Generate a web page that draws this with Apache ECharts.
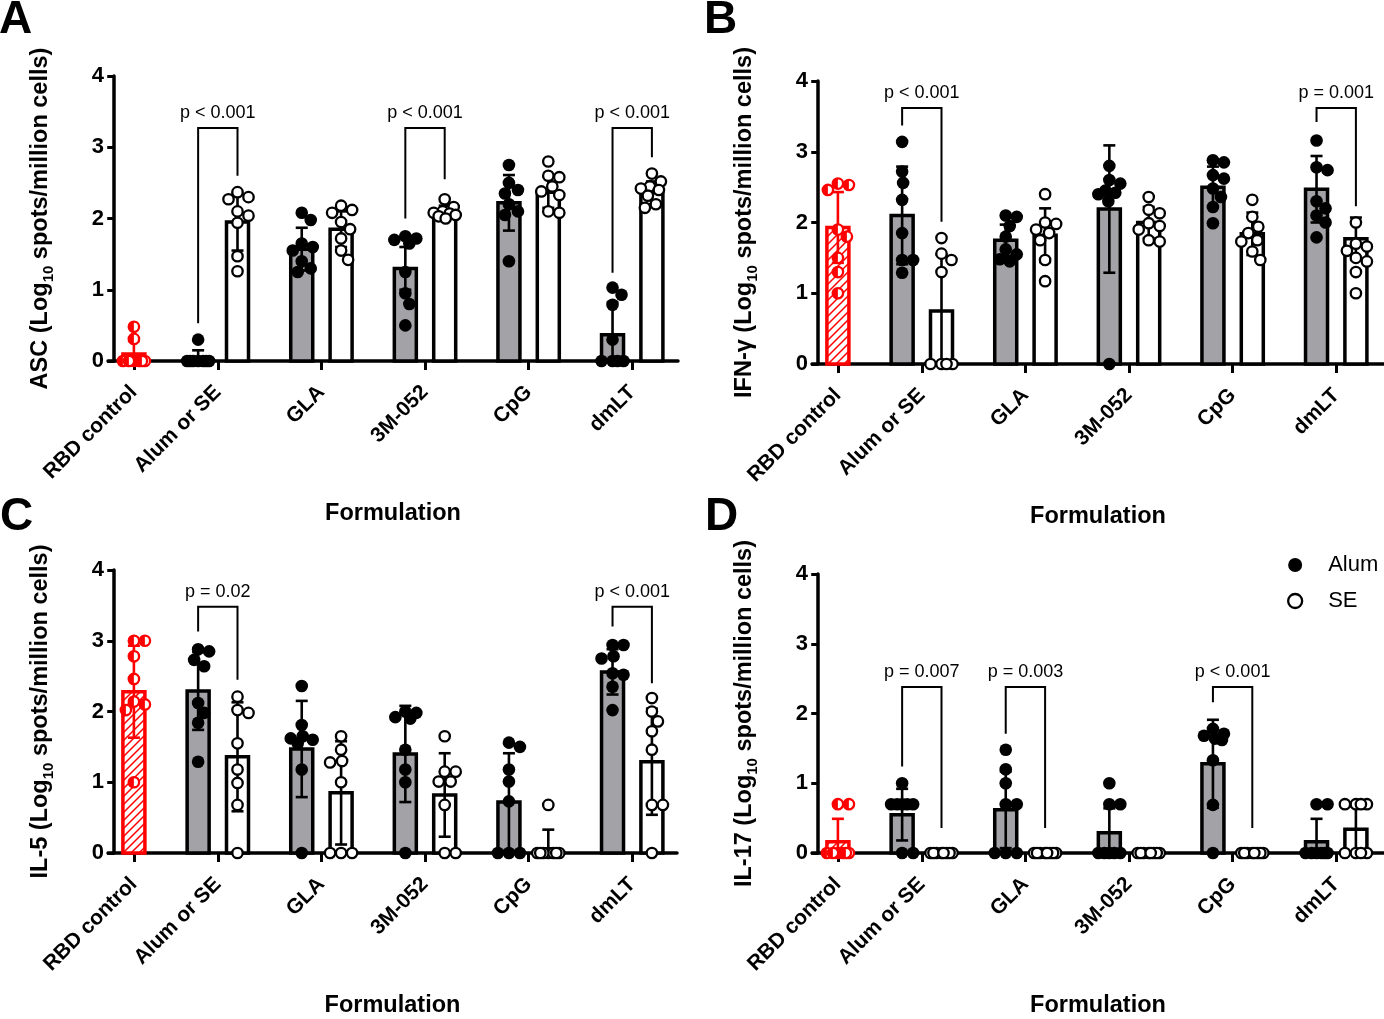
<!DOCTYPE html>
<html>
<head>
<meta charset="utf-8">
<script src="https://cdn.jsdelivr.net/npm/echarts@6/dist/echarts.min.js"></script>
<style>
html, body { margin: 0; padding: 0; background: #fff; }
#main { width: 1384px; height: 1019px; }
</style>
</head>
<body>
<div id="main"></div>
<script>
// categories / ticks
var formulations = ['RBD control', 'Alum or SE', 'GLA', '3M-052', 'CpG', 'dmLT'];
var yTicks = [0, 1, 2, 3, 4];
var panelLetters = ['A', 'B', 'C', 'D'];
var cytokines = ['ASC', 'IFN-γ', 'IL-5', 'IL-17'];
var legendNames = ['Alum', 'SE'];

// A - ASC
var ascCtrl = [0.48, 0.31, 0, 0, 0, 0, 0, 0];
var ascCtrlBar = [0.10, 0.18];
var ascAlum = [
  [0.3, 0, 0, 0, 0, 0, 0, 0],
  [2.08, 1.98, 1.65, 1.6, 1.55, 1.4, 1.3, 1.25],
  [1.75, 1.72, 1.7, 1.65, 1.25, 0.95, 0.8, 0.5],
  [2.75, 2.5, 2.4, 2.35, 2.2, 2.1, 2.05, 1.4],
  [1.03, 0.93, 0.79, 0.3, 0, 0, 0, 0]
];
var ascAlumMean = [0.04, 1.57, 1.30, 2.22, 0.37];
var ascAlumSd = [0.11, 0.30, 0.30, 0.39, 0.45];
var ascSE = [
  [2.37, 2.3, 2.27, 2.1, 2.04, 1.94, 1.47, 1.26],
  [2.18, 2.12, 2.08, 1.95, 1.85, 1.72, 1.55, 1.42],
  [2.27, 2.16, 2.1, 2.08, 2.07, 2.05, 2.03, 2.0],
  [2.8, 2.6, 2.58, 2.45, 2.38, 2.33, 2.1, 2.08],
  [2.63, 2.52, 2.45, 2.42, 2.4, 2.32, 2.2, 2.15]
];
var ascSEMean = [1.95, 1.85, 2.08, 2.37, 2.36];
var ascSESd = [0.40, 0.25, 0.10, 0.22, 0.16];
var ascP = ['p < 0.001', null, 'p < 0.001', null, 'p < 0.001'];
var ascBracket = [[3.27, 0.53, 2.6], null, [3.27, 2.0, 2.55], null, [3.27, 1.24, 2.86]];

// B - IFN-γ
var ifnCtrl = [2.55, 2.53, 2.46, 1.9, 1.8, 1.5, 1.3, 1.0];
var ifnCtrlBar = [1.93, 0.5];
var ifnAlum = [
  [3.14, 2.72, 2.56, 2.32, 1.85, 1.47, 1.47, 1.29],
  [2.1, 2.08, 1.95, 1.8, 1.62, 1.55, 1.48, 1.45],
  [2.8, 2.6, 2.55, 2.45, 2.42, 2.4, 2.3, 0],
  [2.88, 2.85, 2.67, 2.62, 2.48, 2.36, 2.22, 1.99],
  [3.16, 2.78, 2.74, 2.3, 2.2, 2.1, 2.0, 1.79]
];
var ifnAlumMean = [2.10, 1.75, 2.19, 2.50, 2.47];
var ifnAlumSd = [0.69, 0.22, 0.90, 0.29, 0.47];
var ifnSE = [
  [1.78, 1.56, 1.47, 1.3, 0, 0, 0, 0],
  [2.4, 2.0, 1.98, 1.9, 1.85, 1.75, 1.47, 1.17],
  [2.36, 2.18, 2.13, 1.99, 1.95, 1.9, 1.75, 1.73],
  [2.32, 2.08, 1.94, 1.85, 1.75, 1.73, 1.59, 1.47],
  [2.0, 1.7, 1.66, 1.6, 1.5, 1.45, 1.3, 1.0]
];
var ifnSEMean = [0.75, 1.82, 2.00, 1.84, 1.77];
var ifnSESd = [0.80, 0.38, 0.22, 0.30, 0.30];
var ifnP = ['p < 0.001', null, null, null, 'p = 0.001'];
var ifnBracket = [[3.62, 3.37, 2.01], null, null, null, [3.62, 3.42, 2.23]];

// C - IL-5
var il5Ctrl = [3.0, 3.0, 2.78, 2.46, 2.14, 2.1, 2.02, 1.0];
var il5CtrlBar = [2.28, 0.65];
var il5Alum = [
  [2.88, 2.85, 2.73, 2.64, 2.12, 1.98, 1.84, 1.29],
  [2.36, 1.81, 1.65, 1.62, 1.6, 1.55, 1.18, 0],
  [2.0, 1.98, 1.92, 1.9, 1.46, 1.18, 1.0, 0],
  [1.56, 1.5, 1.18, 1.01, 0.73, 0, 0, 0],
  [2.94, 2.94, 2.78, 2.75, 2.54, 2.52, 2.35, 2.02]
];
var il5AlumMean = [2.29, 1.47, 1.40, 0.72, 2.56];
var il5AlumSd = [0.55, 0.68, 0.68, 0.69, 0.32];
var il5SE = [
  [2.21, 2.02, 1.98, 1.55, 1.18, 0.99, 0.68, 0],
  [1.65, 1.46, 1.3, 1.28, 1.0, 0, 0, 0],
  [1.65, 1.15, 1.15, 1.01, 1.01, 0.68, 0, 0],
  [0.68, 0, 0, 0, 0, 0, 0, 0],
  [2.19, 2.0, 1.86, 1.72, 1.46, 0.68, 0.68, 0]
];
var il5SEMean = [1.36, 0.85, 0.82, 0.06, 1.29];
var il5SESd = [0.77, 0.73, 0.59, 0.27, 0.75];
var il5P = ['p = 0.02', null, null, null, 'p < 0.001'];
var il5Bracket = [[3.48, 3.13, 2.45], null, null, null, [3.48, 3.2, 2.4]];

// D - IL-17
var il17Ctrl = [0.7, 0.7, 0, 0, 0, 0, 0, 0];
var il17CtrlBar = [0.16, 0.33];
var il17Alum = [
  [1.0, 0.7, 0.7, 0.7, 0.7, 0.7, 0, 0],
  [1.48, 1.2, 1.0, 0.7, 0.7, 0, 0, 0],
  [1.0, 0.7, 0.7, 0, 0, 0, 0, 0],
  [1.78, 1.71, 1.68, 1.64, 1.62, 1.33, 0.69, 0],
  [0.7, 0.7, 0, 0, 0, 0, 0, 0]
];
var il17AlumMean = [0.55, 0.62, 0.29, 1.28, 0.16];
var il17AlumSd = [0.37, 0.55, 0.35, 0.63, 0.33];
var il17SE = [
  [0, 0, 0, 0, 0, 0, 0, 0],
  [0, 0, 0, 0, 0, 0, 0, 0],
  [0, 0, 0, 0, 0, 0, 0, 0],
  [0, 0, 0, 0, 0, 0, 0, 0],
  [0.7, 0.7, 0.7, 0.7, 0, 0, 0, 0]
];
var il17SEMean = [0, 0, 0, 0, 0.34];
var il17SESd = [0, 0, 0, 0, 0.33];
var il17P = ['p = 0.007', 'p = 0.003', null, 'p < 0.001', null];
var il17Bracket = [[2.38, 1.24, 0.36], [2.38, 1.71, 0.36], null, [2.38, 2.16, 0.36], null];

// layout / style
var FONT = '"Liberation Sans", Arial, Helvetica, sans-serif';
var RED = '#ff0000', GREY = '#a2a2a7';
var X_MIN = -0.06, PX_UNIT = 103.6, CTRL_X = 0.19, PAIR_OFF = 0.19;
var groupPos = [CTRL_X, 1, 2, 3, 4, 5];
var BAR_W = 22, DOT_R = 6.3;
var grids = [
  { left: 108, top: 76, width: 570, height: 285 },
  { left: 812, top: 81, width: 572, height: 283 },
  { left: 108, top: 570, width: 569, height: 283 },
  { left: 812, top: 574, width: 572, height: 284 }
];
var letterPos = [[-1, -3], [704, -3], [0, 494], [705, 494]];

// red hatch for the control bar
var hatch = document.createElement('canvas');
hatch.width = 8; hatch.height = 8;
(function () {
  var ctx = hatch.getContext('2d');
  ctx.fillStyle = '#fff'; ctx.fillRect(0, 0, 8, 8);
  ctx.strokeStyle = RED; ctx.lineWidth = 1.5;
  ctx.beginPath();
  ctx.moveTo(-1, 9); ctx.lineTo(9, -1);
  ctx.moveTo(-3, 3); ctx.lineTo(3, -3);
  ctx.moveTo(5, 11); ctx.lineTo(11, 5);
  ctx.stroke();
})();

var panels = [
  [ascCtrl, ascCtrlBar, ascAlum, ascAlumMean, ascAlumSd, ascSE, ascSEMean, ascSESd, ascP, ascBracket],
  [ifnCtrl, ifnCtrlBar, ifnAlum, ifnAlumMean, ifnAlumSd, ifnSE, ifnSEMean, ifnSESd, ifnP, ifnBracket],
  [il5Ctrl, il5CtrlBar, il5Alum, il5AlumMean, il5AlumSd, il5SE, il5SEMean, il5SESd, il5P, il5Bracket],
  [il17Ctrl, il17CtrlBar, il17Alum, il17AlumMean, il17AlumSd, il17SE, il17SEMean, il17SESd, il17P, il17Bracket]
];

// simple beeswarm: horizontal pixel offsets so dots do not pile up
function swarm(ys, r, maxOff) {
  var placed = [], offs = [];
  var order = ys.map(function (y, i) { return i; }).sort(function (a, b) { return ys[a] - ys[b]; });
  var cands = [0];
  for (var k = 1; k <= maxOff; k++) cands.push(k, -k);
  order.forEach(function (i) {
    var best = 0, bestD = -1;
    for (var c = 0; c < cands.length; c++) {
      var md = Infinity;
      placed.forEach(function (p) {
        var d = Math.sqrt((p[0] - cands[c]) * (p[0] - cands[c]) + (p[1] - ys[i]) * (p[1] - ys[i]));
        if (d < md) md = d;
      });
      if (md >= 2 * r * 0.9) { best = cands[c]; break; }
      if (md > bestD) { bestD = md; best = cands[c]; }
    }
    placed.push([best, ys[i]]);
    offs[i] = best;
  });
  return offs;
}

function dotShapes(kind, x, y) {
  if (kind === 'alum') {
    return [{ type: 'circle', shape: { cx: x, cy: y, r: DOT_R }, style: { fill: '#000' } }];
  }
  if (kind === 'se') {
    return [{ type: 'circle', shape: { cx: x, cy: y, r: DOT_R - 1.1 }, style: { fill: '#fff', stroke: '#000', lineWidth: 2.3 } }];
  }
  return [
    { type: 'circle', shape: { cx: x, cy: y, r: DOT_R - 1.1 }, style: { fill: '#fff', stroke: RED, lineWidth: 2.3 } },
    { type: 'sector', shape: { cx: x, cy: y, r0: 0, r: DOT_R - 1.1, startAngle: Math.PI / 2, endAngle: Math.PI * 1.5 }, style: { fill: RED } }
  ];
}

var option = {
  animation: false,
  backgroundColor: '#fff',
  textStyle: { fontFamily: FONT },
  title: panelLetters.map(function (t, i) {
    return { text: t, left: letterPos[i][0], top: letterPos[i][1], padding: 0,
      textStyle: { fontSize: 46, fontWeight: 'bold', color: '#000', fontFamily: FONT } };
  }),
  legend: {
    orient: 'vertical', left: 1282, top: 549, selectedMode: false,
    itemWidth: 14, itemHeight: 14, itemGap: 14, icon: 'circle',
    textStyle: { fontSize: 22, color: '#000', fontFamily: FONT, padding: [0, 0, 0, 21] },
    data: [
      { name: legendNames[0], itemStyle: { color: '#000' } },
      { name: legendNames[1], itemStyle: { color: '#fff', borderColor: '#000', borderWidth: 2.3 } }
    ]
  },
  grid: grids,
  xAxis: grids.map(function (g, i) {
    return {
      type: 'value', gridIndex: i, min: X_MIN, max: X_MIN + g.width / PX_UNIT,
      name: 'Formulation', nameLocation: 'middle', nameGap: 141,
      nameTextStyle: { fontSize: 23.5, fontWeight: 'bold', color: '#000', fontFamily: FONT },
      splitLine: { show: false },
      axisLine: { onZero: false, lineStyle: { color: '#000', width: 3.5 } },
      axisTick: { customValues: groupPos, length: 9, lineStyle: { color: '#000', width: 3 } },
      axisLabel: {
        customValues: groupPos, rotate: 45, margin: 28, color: '#000',
        fontSize: 21, fontWeight: 'bold', fontFamily: FONT,
        formatter: function (v) {
          for (var k = 0; k < groupPos.length; k++) if (Math.abs(groupPos[k] - v) < 0.01) return formulations[k];
          return '';
        }
      }
    };
  }),
  yAxis: grids.map(function (g, i) {
    return {
      type: 'value', gridIndex: i, min: yTicks[0], max: yTicks[yTicks.length - 1], interval: 1,
      name: '{b|' + cytokines[i] + ' (Log}{s|10}{b| spots/million cells)}',
      nameLocation: 'middle', nameRotate: 90, nameGap: 52,
      nameTextStyle: {
        rich: {
          b: { fontSize: 23.5, fontWeight: 'bold', color: '#000', fontFamily: FONT, lineHeight: 30 },
          s: { fontSize: 15, fontWeight: 'bold', color: '#000', fontFamily: FONT, verticalAlign: 'bottom', lineHeight: 22 }
        }
      },
      splitLine: { show: false },
      axisLine: { show: true, lineStyle: { color: '#000', width: 3.5 } },
      axisTick: { show: true, length: 7, lineStyle: { color: '#000', width: 3 } },
      axisLabel: { color: '#000', fontSize: 22, fontWeight: 'bold', fontFamily: FONT, margin: 4 }
    };
  }),
  series: []
};

panels.forEach(function (p, pi) {
  var groups = [{ x: CTRL_X, kind: 'ctrl', mean: p[1][0], sd: p[1][1], pts: p[0] }];
  for (var i = 0; i < 5; i++) {
    groups.push({ x: i + 1 - PAIR_OFF, kind: 'alum', mean: p[3][i], sd: p[4][i], pts: p[2][i] });
    groups.push({ x: i + 1 + PAIR_OFF, kind: 'se', mean: p[6][i], sd: p[7][i], pts: p[5][i] });
  }
  var groupData = groups.map(function (g) { return [g.x, g.mean, g.sd]; });

  // bars
  option.series.push({
    type: 'custom', xAxisIndex: pi, yAxisIndex: pi, z: 2, silent: true, clip: false,
    data: groupData,
    renderItem: function (params, api) {
      var g = groups[params.dataIndex];
      if (!(g.mean > 0)) return null;
      var top = api.coord([api.value(0), api.value(1)]);
      var base = api.coord([api.value(0), 0]);
      var fill = g.kind === 'ctrl' ? { image: hatch, repeat: 'repeat' } : (g.kind === 'alum' ? GREY : '#fff');
      return {
        type: 'rect',
        shape: { x: top[0] - BAR_W / 2, y: top[1], width: BAR_W, height: base[1] - top[1] },
        style: { fill: fill, stroke: g.kind === 'ctrl' ? RED : '#000', lineWidth: 3.5 }
      };
    }
  });

  // error bars (mean ± SD)
  option.series.push({
    type: 'custom', xAxisIndex: pi, yAxisIndex: pi, z: 3, silent: true, clip: false,
    data: groupData,
    renderItem: function (params, api) {
      var g = groups[params.dataIndex];
      if (!(api.value(2) > 0)) return null;
      var x = api.value(0), m = api.value(1), s = api.value(2);
      var hi = api.coord([x, m + s]);
      var lo = api.coord([x, Math.max(0, m - s)]);
      var col = g.kind === 'ctrl' ? RED : '#000';
      var st = { stroke: col, lineWidth: 2.6 };
      var ch = [
        { type: 'line', shape: { x1: hi[0], y1: hi[1], x2: lo[0], y2: lo[1] }, style: st },
        { type: 'line', shape: { x1: hi[0] - 6, y1: hi[1], x2: hi[0] + 6, y2: hi[1] }, style: st }
      ];
      if (m - s > 0) ch.push({ type: 'line', shape: { x1: lo[0] - 6, y1: lo[1], x2: lo[0] + 6, y2: lo[1] }, style: st });
      return { type: 'group', children: ch };
    }
  });

  // dots
  [['ctrl', 'RBD control'], ['alum', legendNames[0]], ['se', legendNames[1]]].forEach(function (kd) {
    var kg = groups.filter(function (g) { return g.kind === kd[0]; });
    option.series.push({
      type: 'custom', name: kd[1], xAxisIndex: pi, yAxisIndex: pi, z: 4, silent: true, clip: false,
      itemStyle: kd[0] === 'se' ? { color: '#fff', borderColor: '#000' } : { color: kd[0] === 'ctrl' ? RED : '#000' },
      data: kg.map(function (g) { return [g.x, g.mean]; }),
      renderItem: function (params, api) {
        var g = kg[params.dataIndex];
        var cx = api.coord([api.value(0), 0])[0];
        var ys = g.pts.map(function (v) { return api.coord([g.x, v])[1]; });
        var offs = swarm(ys, DOT_R, 11);
        var ch = [];
        ys.forEach(function (y, j) { ch = ch.concat(dotShapes(g.kind, cx + offs[j], y)); });
        return { type: 'group', children: ch };
      }
    });
  });

  // significance brackets
  var brIdx = [];
  p[8].forEach(function (t, k) { if (t) brIdx.push(k); });
  option.series.push({
    type: 'custom', xAxisIndex: pi, yAxisIndex: pi, z: 5, silent: true, clip: false,
    data: brIdx.map(function (k) { return [k + 1 - PAIR_OFF, k + 1 + PAIR_OFF, p[9][k][0], p[9][k][1], p[9][k][2]]; }),
    renderItem: function (params, api) {
      var k = brIdx[params.dataIndex];
      var tl = api.coord([api.value(0), api.value(2)]);
      var tr = api.coord([api.value(1), api.value(2)]);
      var bl = api.coord([api.value(0), api.value(3)]);
      var brr = api.coord([api.value(1), api.value(4)]);
      return {
        type: 'group',
        children: [
          { type: 'polyline', shape: { points: [bl, tl, tr, brr] }, style: { stroke: '#000', lineWidth: 2, fill: null } },
          { type: 'text', style: { text: p[8][k], x: (tl[0] + tr[0]) / 2, y: tl[1] - 6, align: 'center', verticalAlign: 'bottom',
              fontSize: 18, fontFamily: FONT, fill: '#000' } }
        ]
      };
    }
  });
});

var chart = echarts.init(document.getElementById('main'));
chart.setOption(option);
</script>
</body>
</html>
